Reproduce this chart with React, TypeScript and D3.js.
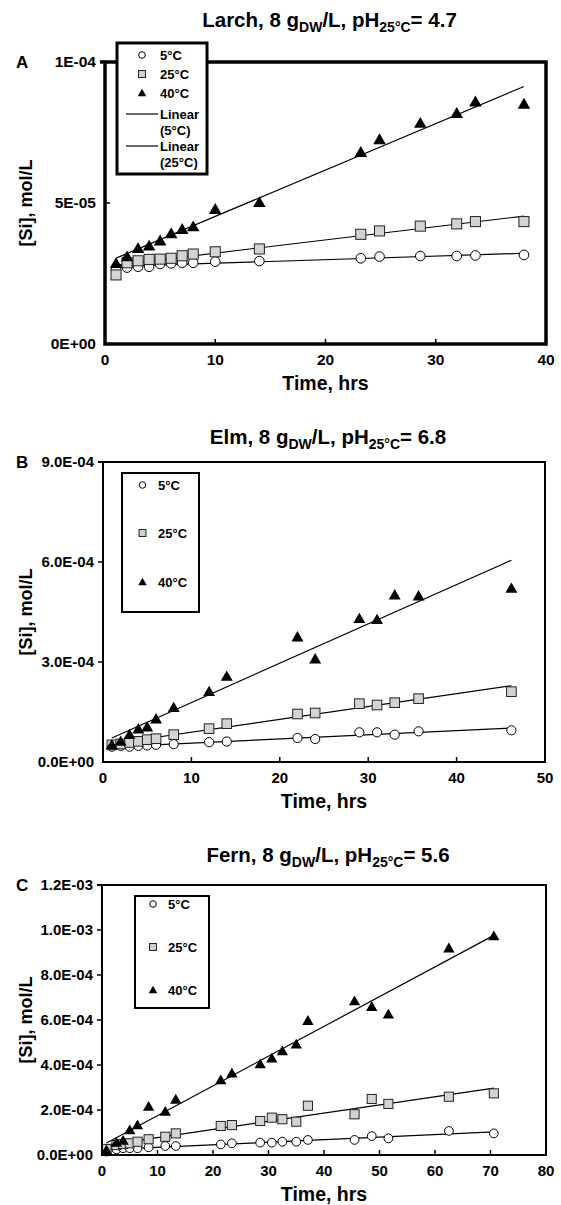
import React from "react";
import * as d3 from "d3";

// ---------- Panel A: Larch (values in 1e-6 mol/L) ----------
const larchTime = [1, 2, 3, 4, 5, 6, 7, 8, 10, 14, 23.2, 24.9, 28.6, 31.9, 33.6, 38];
const larch5C = [26.5, 27.1, 27.4, 27.4, 28.4, 28.6, 28.8, 28.8, 29.2, 29.4, 30.4, 31.0, 31.2, 31.2, 31.4, 31.6];
const larch25C = [24.5, 28.8, 29.5, 30.0, 30.1, 30.4, 31.3, 31.9, 32.7, 33.7, 38.9, 40.1, 41.8, 42.6, 43.4, 43.4];
const larch40C = [28.6, 31.0, 33.9, 34.8, 36.6, 39.2, 40.7, 41.6, 47.8, 50.2, 68.0, 72.5, 78.3, 81.8, 85.9, 85.1];
const larchUnit = 1e-6;
const larchXTicks = [0, 10, 20, 30, 40];
const larchYTicks = [0, 5e-5, 1e-4];
const larchYLabels = ["0E+00", "5E-05", "1E-04"];

// ---------- Panel B: Elm (values in 1e-5 mol/L) ----------
const elmTime = [1, 2, 3, 4, 5, 6, 8, 12, 14, 22, 24, 29, 31, 33, 35.7, 46.2];
const elm5C = [4.6, 4.85, 4.6, 4.85, 4.95, 5.15, 5.35, 5.95, 6.15, 7.2, 6.9, 8.9, 8.9, 8.2, 9.2, 9.5];
const elm25C = [5.15, 5.4, 5.85, 6.2, 6.7, 7.0, 8.2, 10.0, 11.5, 14.4, 14.7, 17.5, 17.1, 17.8, 19.0, 21.1];
const elm40C = [5.15, 6.2, 8.2, 9.9, 10.5, 12.9, 16.3, 21.1, 25.7, 37.5, 30.9, 43.0, 42.7, 50.1, 49.8, 52.1];
const elmUnit = 1e-5;
const elmXTicks = [0, 10, 20, 30, 40, 50];
const elmYTicks = [0, 3e-4, 6e-4, 9e-4];
const elmYLabels = ["0.0E+00", "3.0E-04", "6.0E-04", "9.0E-04"];

// ---------- Panel C: Fern (values in 1e-5 mol/L) ----------
const fernTime = [0.8, 2.6, 3.8, 5, 6.4, 8.4, 11.4, 13.3, 21.4, 23.4, 28.5, 30.6, 32.5, 35, 37.1, 45.5, 48.6, 51.6, 62.5, 70.6];
const fern5C = [1.5, 2.5, 3.0, 3.0, 3.0, 3.4, 4.0, 4.0, 4.7, 5.2, 5.5, 5.5, 5.9, 5.9, 6.7, 6.7, 8.4, 7.4, 10.7, 9.6];
const fern25C = [2.7, 4.4, 4.9, 5.2, 5.9, 7.0, 8.1, 9.6, 12.9, 13.3, 15.1, 16.6, 15.9, 14.8, 21.9, 18.1, 24.9, 22.7, 25.9, 27.4];
const fern40C = [2.2, 5.5, 6.4, 11.1, 13.3, 21.5, 19.3, 24.7, 33.3, 36.3, 40.4, 43.0, 46.2, 49.2, 59.7, 68.4, 65.9, 62.5, 91.9, 97.3];
const fernUnit = 1e-5;
const fernXTicks = [0, 10, 20, 30, 40, 50, 60, 70, 80];
const fernYTicks = [0, 2e-4, 4e-4, 6e-4, 8e-4, 1e-3, 1.2e-3];
const fernYLabels = ["0.0E+00", "2.0E-04", "4.0E-04", "6.0E-04", "8.0E-04", "1.0E-03", "1.2E-03"];

const seriesNames = ["5°C", "25°C", "40°C"];

const FONT = "'Liberation Sans', Arial, Helvetica, sans-serif";

function linFit(xs: number[], ys: number[]) {
  const mx = d3.mean(xs) as number;
  const my = d3.mean(ys) as number;
  let sxy = 0, sxx = 0;
  xs.forEach((x, i) => { sxy += (x - mx) * (ys[i] - my); sxx += (x - mx) * (x - mx); });
  const b = sxy / sxx;
  return { a: my - b * mx, b };
}

type PanelProps = {
  letter: string;
  name: string;
  ph: string;
  titleY: number;
  time: number[];
  series: number[][];
  unit: number;
  xMax: number;
  yMax: number;
  xTicks: number[];
  yTicks: number[];
  yLabels: string[];
  left: number; right: number; top: number; bottom: number;
  frameW: number;
  tickFont: number;
  yTickOut: boolean;
  legend: { x0: number; x1: number; y0: number; y1: number; mx: number; tx: number; rows: number[]; stroke: number; linears?: { ly: number; ly2: number }[] };
  markerScale: number;
};

function Marker({ kind, x, y, s }: { kind: number; x: number; y: number; s: number }) {
  if (kind === 0) return <circle cx={x} cy={y} r={4.6 * s} fill="#fff" stroke="#000" strokeWidth={1} />;
  if (kind === 1) {
    const h = 4.8 * s;
    return <rect x={x - h} y={y - h} width={2 * h} height={2 * h} fill="#d3d3d3" stroke="#222" strokeWidth={1} />;
  }
  const p = d3.symbol().type(d3.symbolTriangle).size(62 * s * s)();
  return <path d={p as string} transform={`translate(${x},${y + 1 * s})`} fill="#000" />;
}

function Panel(p: PanelProps) {
  const x = d3.scaleLinear().domain([0, p.xMax]).range([p.left, p.right]);
  const y = d3.scaleLinear().domain([0, p.yMax]).range([p.bottom, p.top]);
  const line = d3.line<[number, number]>().x(d => x(d[0])).y(d => y(d[1]));
  const tMin = d3.min(p.time) as number;
  const tMax = d3.max(p.time) as number;
  const midY = (p.top + p.bottom) / 2;
  const midX = (p.left + p.right) / 2;
  const L = p.legend;
  return (
    <g>
      {/* title */}
      <text x={midX + 4} y={p.titleY} textAnchor="middle" fontSize={20.5} fontWeight="bold" fontFamily={FONT}>
        {p.name}, 8 g<tspan fontSize={14} dy={5}>DW</tspan><tspan dy={-5}>/L, pH</tspan><tspan fontSize={14} dy={5}>25°C</tspan><tspan dy={-5}>= {p.ph}</tspan>
      </text>
      <text x={16} y={p.top + 6} fontSize={17} fontWeight="bold" fontFamily={FONT}>{p.letter}</text>
      {/* y label */}
      <text transform={`translate(${32},${midY}) rotate(-90)`} textAnchor="middle" fontSize={18} fontWeight="bold" fontFamily={FONT}>[Si], mol/L</text>
      {/* x label */}
      <text x={midX} y={p.bottom + 46} textAnchor="middle" fontSize={19.5} fontWeight="bold" fontFamily={FONT}>Time, hrs</text>
      {/* fit lines */}
      {p.series.map((s, i) => {
        const vals = s.map(v => v * p.unit);
        const f = linFit(p.time, vals);
        const pts: [number, number][] = [[tMin, f.a + f.b * tMin], [tMax, f.a + f.b * tMax]];
        return <path key={"l" + i} d={line(pts) as string} fill="none" stroke="#000" strokeWidth={1.2} />;
      })}
      {/* markers */}
      {p.series.map((s, i) => (
        <g key={"m" + i}>
          {s.map((v, j) => <Marker key={j} kind={i} x={x(p.time[j])} y={y(v * p.unit)} s={p.markerScale} />)}
        </g>
      ))}
      {/* frame */}
      <rect x={p.left} y={p.top} width={p.right - p.left} height={p.bottom - p.top} fill="none" stroke="#000" strokeWidth={p.frameW} />
      {/* x ticks */}
      {p.xTicks.map(t => (
        <g key={"xt" + t}>
          {t > 0 && t < p.xMax && <line x1={x(t)} x2={x(t)} y1={p.bottom} y2={p.bottom - 5} stroke="#000" strokeWidth={1.5} />}
          <text x={x(t)} y={p.bottom + 21} textAnchor="middle" fontSize={p.tickFont} fontWeight="bold" fontFamily={FONT}>{t}</text>
        </g>
      ))}
      {/* y ticks */}
      {p.yTicks.map((t, i) => (
        <g key={"yt" + i}>
          {t > 0 && (
            <line
              x1={p.left}
              x2={p.yTickOut || t === p.yMax ? p.left - 5 : p.left + 5}
              y1={y(t)} y2={y(t)} stroke="#000" strokeWidth={t === p.yMax ? p.frameW : 1.5}
            />
          )}
          <text x={p.left - 9} y={y(t) + 5} textAnchor="end" fontSize={p.tickFont} fontWeight="bold" fontFamily={FONT}>{p.yLabels[i]}</text>
        </g>
      ))}
      {/* legend */}
      <rect x={L.x0} y={L.y0} width={L.x1 - L.x0} height={L.y1 - L.y0} fill="#fff" stroke="#000" strokeWidth={L.stroke} />
      {seriesNames.map((n, i) => (
        <g key={"lg" + i}>
          <Marker kind={i} x={L.mx} y={L.rows[i]} s={0.72} />
          <text x={L.tx} y={L.rows[i] + 5} fontSize={13} fontWeight="bold" fontFamily={FONT}>{n}</text>
        </g>
      ))}
      {L.linears && L.linears.map((ln, i) => (
        <g key={"ll" + i}>
          <line x1={L.x0 + 9} x2={L.tx - 2} y1={ln.ly} y2={ln.ly} stroke="#000" strokeWidth={1.2} />
          <text x={L.tx} y={ln.ly + 5} fontSize={13} fontWeight="bold" fontFamily={FONT}>Linear</text>
          <text x={L.tx} y={ln.ly2 + 5} fontSize={13} fontWeight="bold" fontFamily={FONT}>{i === 0 ? "(5°C)" : "(25°C)"}</text>
        </g>
      ))}
    </g>
  );
}

export default function App() {
  return (
    <svg width={561} height={1205} style={{ position: "absolute", left: 0, top: 0, background: "#fff" }}>
      <rect x={0} y={0} width={561} height={1205} fill="#fff" />
      <Panel
        letter="A" name="Larch" ph="4.7" titleY={27}
        time={larchTime} series={[larch5C, larch25C, larch40C]} unit={larchUnit}
        xMax={40} yMax={1e-4} xTicks={larchXTicks} yTicks={larchYTicks} yLabels={larchYLabels}
        left={105} right={546} top={62} bottom={344} frameW={3.5} tickFont={15.5} yTickOut={false}
        markerScale={1.05}
        legend={{ x0: 117, x1: 207, y0: 43, y1: 174, mx: 142, tx: 160, rows: [55, 74, 93], stroke: 3, linears: [{ ly: 114, ly2: 130 }, { ly: 146, ly2: 162 }] }}
      />
      <Panel
        letter="B" name="Elm" ph="6.8" titleY={444}
        time={elmTime} series={[elm5C, elm25C, elm40C]} unit={elmUnit}
        xMax={50} yMax={9e-4} xTicks={elmXTicks} yTicks={elmYTicks} yLabels={elmYLabels}
        left={103} right={545} top={462} bottom={762} frameW={2} tickFont={15} yTickOut={true}
        markerScale={1}
        legend={{ x0: 122, x1: 199, y0: 473, y1: 612, mx: 142.5, tx: 158, rows: [485, 533, 582], stroke: 2 }}
      />
      <Panel
        letter="C" name="Fern" ph="5.6" titleY={862}
        time={fernTime} series={[fern5C, fern25C, fern40C]} unit={fernUnit}
        xMax={80} yMax={1.2e-3} xTicks={fernXTicks} yTicks={fernYTicks} yLabels={fernYLabels}
        left={102} right={546} top={885} bottom={1155} frameW={2} tickFont={15} yTickOut={true}
        markerScale={0.95}
        legend={{ x0: 135, x1: 209, y0: 896, y1: 1008, mx: 153, tx: 168, rows: [904, 947, 990], stroke: 2 }}
      />
    </svg>
  );
}
